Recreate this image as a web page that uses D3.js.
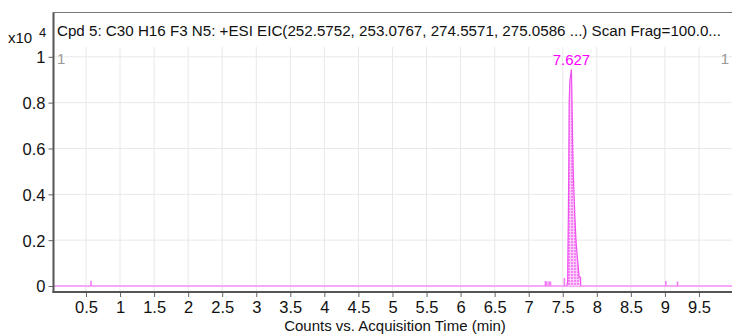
<!DOCTYPE html>
<html>
<head>
<meta charset="utf-8">
<script src="https://cdn.jsdelivr.net/npm/d3@7/dist/d3.min.js"></script>
<style>
  html, body { margin: 0; padding: 0; background: #fff; }
  svg { display: block; font-family: "Liberation Sans", Arial, sans-serif; }
</style>
</head>
<body>
<svg id="chart" width="732" height="334"></svg>
<script>
// Extracted ion chromatogram, Cpd 5 (counts x10^4 vs. acquisition time in minutes)
const titleText = "Cpd 5: C30 H16 F3 N5: +ESI EIC(252.5752, 253.0767, 274.5571, 275.0586 ...) Scan Frag=100.0...";
const xLabel = "Counts vs. Acquisition Time (min)";
const xTicks = [0.5, 1, 1.5, 2, 2.5, 3, 3.5, 4, 4.5, 5, 5.5, 6, 6.5, 7, 7.5, 8, 8.5, 9, 9.5];
const yTicks = [0, 0.2, 0.4, 0.6, 0.8, 1];
const peakTime = 7.627;

// Main peak profile
const peakTimes  = [7.560, 7.572, 7.576, 7.582, 7.588, 7.594, 7.605, 7.612, 7.627, 7.634, 7.644, 7.654, 7.665, 7.680, 7.694, 7.713, 7.732, 7.740, 7.760, 7.765];
const peakCounts = [0,     200,   1500,  3000,  5000,  8000,  9000,  9100,  9450,  8400,  6500,  5000,  4000,  2900,  2000,  1280,  700,   400,   380,   0];

// Small noise spikes elsewhere in the run
const spikeTimes  = [0.574, 7.245, 7.265, 7.300, 7.320, 7.524, 9.013, 9.185];
const spikeCounts = [230,   220,   200,   210,   190,   350,   220,   200];

const svg = d3.select("#chart");
const x = d3.scaleLinear().domain([0.023, 9.985]).range([53.5, 732]);
const y = d3.scaleLinear().domain([0, 1]).range([286, 56.8]);
const yc = v => y(v / 10000);

const magenta = "#ff00ff";

// Grid
const grid = svg.append("g");
grid.selectAll("line.v").data(xTicks).join("line")
  .attr("x1", d => x(d)).attr("x2", d => x(d))
  .attr("y1", 47).attr("y2", 291)
  .attr("stroke", "#e8e8e8").attr("stroke-width", 1);
grid.selectAll("line.h").data(yTicks.slice(1)).join("line")
  .attr("x1", 54).attr("x2", 732)
  .attr("y1", d => y(d)).attr("y2", d => y(d))
  .attr("stroke", "#e8e8e8").attr("stroke-width", 1);

// Hatched fill for the peak area
const defs = svg.append("defs");
const pat = defs.append("pattern").attr("id", "hatch")
  .attr("patternUnits", "userSpaceOnUse").attr("width", 3).attr("height", 3);
pat.append("rect").attr("width", 3).attr("height", 3).attr("fill", "#f384f3");
pat.append("rect").attr("width", 3).attr("height", 1).attr("fill", "#fbcdfb");
pat.append("rect").attr("width", 1).attr("height", 3).attr("fill", "#fbcdfb");

// Baseline trace
svg.append("line")
  .attr("x1", 54).attr("x2", 732)
  .attr("y1", yc(0)).attr("y2", yc(0))
  .attr("stroke", "#f7a8f7").attr("stroke-width", 2);

// Noise spikes
svg.append("g").selectAll("line").data(spikeTimes).join("line")
  .attr("x1", d => x(d)).attr("x2", d => x(d))
  .attr("y1", yc(0)).attr("y2", (d, i) => yc(spikeCounts[i]))
  .attr("stroke", "#f27cf2").attr("stroke-width", 1.6);

// Main peak
const peak = peakTimes.map((t, i) => [t, peakCounts[i]]);
svg.append("path").datum(peak)
  .attr("d", d3.area().x(d => x(d[0])).y0(yc(0)).y1(d => yc(d[1])))
  .attr("fill", "url(#hatch)");
svg.append("path").datum(peak)
  .attr("d", d3.line().x(d => x(d[0])).y(d => yc(d[1])))
  .attr("fill", "none").attr("stroke", "#f050f0").attr("stroke-width", 1.2);

// Axes
const xAxis = svg.append("g").attr("transform", "translate(0,292)")
  .call(d3.axisBottom(x).tickValues(xTicks).tickFormat(d3.format("")).tickSize(5).tickPadding(4));
const yAxis = svg.append("g").attr("transform", "translate(53.5,0)")
  .call(d3.axisLeft(y).tickValues(yTicks).tickFormat(d3.format("")).tickSize(5).tickPadding(3));
[xAxis, yAxis].forEach(g => {
  g.select(".domain").remove();
  g.selectAll(".tick line").attr("stroke", "#666");
  g.selectAll(".tick text").attr("fill", "#111")
    .style("font-size", "16.5px").style("font-family", "Liberation Sans, Arial, sans-serif");
});
yAxis.selectAll(".tick text").attr("dy", "0.36em");

// Frame lines
svg.append("line").attr("x1", 53.5).attr("x2", 53.5).attr("y1", 12).attr("y2", 293)
  .attr("stroke", "#555").attr("stroke-width", 2);
svg.append("line").attr("x1", 52.5).attr("x2", 732).attr("y1", 292).attr("y2", 292)
  .attr("stroke", "#555").attr("stroke-width", 2);
svg.append("line").attr("x1", 53).attr("x2", 732).attr("y1", 12.5).attr("y2", 12.5)
  .attr("stroke", "#777").attr("stroke-width", 1);

// Title: size chosen so the full string fits inside the frame
const title = svg.append("text").attr("x", 57).attr("y", 36)
  .attr("fill", "#111").style("font-size", "16px").text(titleText);
const natural = title.node().getComputedTextLength();
title.style("font-size", (16 * 664 / natural).toFixed(2) + "px");

svg.append("text").attr("x", 8).attr("y", 43).attr("fill", "#111").style("font-size", "15px").text("x10");
svg.append("text").attr("x", 39).attr("y", 37).attr("fill", "#111").style("font-size", "13px").text("4");
svg.append("text").attr("x", 57).attr("y", 64).attr("fill", "#999").style("font-size", "15px").text("1");
svg.append("text").attr("x", 729).attr("y", 64).attr("text-anchor", "end").attr("fill", "#999").style("font-size", "15px").text("1");
svg.append("text").attr("x", x(peakTime)).attr("y", 65).attr("text-anchor", "middle")
  .attr("fill", magenta).style("font-size", "15px").text(String(peakTime));
svg.append("text").attr("x", 395).attr("y", 331).attr("text-anchor", "middle")
  .attr("fill", "#111").style("font-size", "15px").text(xLabel);
</script>
</body>
</html>
